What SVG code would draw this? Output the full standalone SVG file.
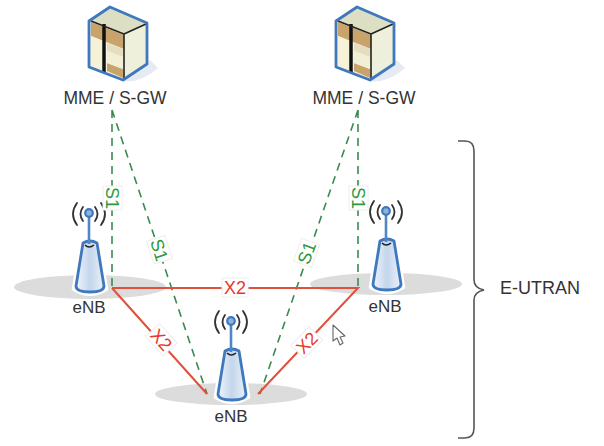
<svg xmlns="http://www.w3.org/2000/svg" width="604" height="446" viewBox="0 0 604 446">
<style>
text{font-family:"Liberation Sans",Arial,sans-serif;fill:#333}
.nl{font-size:17.5px;text-anchor:middle}
.el{font-size:17px;text-anchor:middle}
.s{stroke:#3a8a50;stroke-width:1.6;stroke-dasharray:8 6;fill:none}
.x{stroke:#e0503c;stroke-width:2;fill:none}
.lb{fill:#fff;stroke:#eee;stroke-width:1}
.sl{font-size:18px;text-anchor:middle;fill:#2c9a3c}
.xl{font-size:18px;text-anchor:middle;fill:#e8382c}
.shadow{fill:#dcdcdc}
.wave{fill:none;stroke:#333;stroke-width:1.8;stroke-linecap:round}
</style>
<defs>
<linearGradient id="bodyfill" x1="0" x2="1" y1="0" y2="0"><stop offset="0" stop-color="#eef4fb"/><stop offset="0.5" stop-color="#c4d6ec"/><stop offset="1" stop-color="#eaf1f9"/></linearGradient>
<g id="server">
<path d="M121 81Q140 84 158 68L150 60Z" fill="#e6eaf2"/>
<path d="M110 7 147 23V64L123 80 89 67V21Z" fill="#f4f3e4"/>
<path d="M110 8 146 24 124 34 91 21Z" fill="#dcdfc4"/>
<path d="M124 34 146 24V63L124 79Z" fill="#eef0dc"/>
<path d="M91 22 124 35V49L91 36Z" fill="#c9a36c"/>
<path d="M91 36 103 41V71L91 66Z" fill="#f6f2d8"/>
<path d="M107 43 123 49V57L107 51Z" fill="#e6dcc0"/>
<path d="M107 63 123 69V78L107 71Z" fill="#c9a36c"/>
<path d="M107 51 123 57V69L107 63Z" fill="#f3efd4"/>
<path d="M104 24V72" stroke="#111" stroke-width="3.5" fill="none"/>
<path d="M91 21 124 34V79M124 34 146 24" stroke="#222" stroke-width="1.6" fill="none"/>
<path d="M110 7 147 23V64L123 80 89 67V21Z" fill="none" stroke="#3f78bd" stroke-width="2.8" stroke-linejoin="round"/>
</g>
<g id="antenna">
<path d="M83 243Q90 239 97 243L104 288Q90 296 76 288Z" fill="#fff" stroke="#fff" stroke-width="8"/>
<path d="M83 243Q90 239 97 243L104 286Q104 292 90 292 76 292 76 286Z" fill="url(#bodyfill)" stroke="#3f78bd" stroke-width="2.8" stroke-linejoin="round"/>
<path d="M89 215V244" stroke="#4f86c6" stroke-width="2.6"/>
<circle cx="89" cy="213" r="3.8" fill="#8fb2dc" stroke="#3f78bd" stroke-width="2.2"/>
<path d="M85 245Q89 249 94 245" fill="none" stroke="#222" stroke-width="1.6"/>
<path class="wave" d="M83 207Q78 214 83 221M95 207Q100 214 95 221M77 203Q69 214 77 225M101 203Q109 214 101 225"/>
</g>
</defs>
<rect width="604" height="446" fill="#fff"/>
<g id="node-mme-1"><use href="#server"/><text class="nl" x="115" y="104">MME / S-GW</text></g>
<g id="node-mme-2"><use href="#server" x="247"/><text class="nl" x="364" y="104">MME / S-GW</text></g>
<g id="node-enb-1"><ellipse class="shadow" cx="90" cy="287" rx="76" ry="12"/><use href="#antenna"/><text class="el" x="89" y="313">eNB</text></g>
<g id="node-enb-2"><ellipse class="shadow" cx="386" cy="284" rx="76" ry="11"/><use href="#antenna" x="297" y="-2"/><text class="el" x="385" y="312">eNB</text></g>
<g id="node-enb-3"><ellipse class="shadow" cx="231" cy="394" rx="76" ry="11"/><use href="#antenna" x="142" y="108"/><text class="el" x="231" y="422">eNB</text></g>
<g id="connectors">
<path class="s" d="M112 110V288M112 110 207 394M358 110V288M358 110 260 394"/>
<path class="x" d="M112 288H358L258 394M112 288 207 394"/>
<g transform="translate(112 198) rotate(90)"><rect class="lb" x="-12" y="-10" width="24" height="19"/><text class="sl" y="6">S1</text></g>
<g transform="translate(358 198) rotate(90)"><rect class="lb" x="-12" y="-10" width="24" height="19"/><text class="sl" y="6">S1</text></g>
<g transform="translate(159 250) rotate(72)"><rect class="lb" x="-12" y="-10" width="24" height="19"/><text class="sl" y="6">S1</text></g>
<g transform="translate(307 253) rotate(-70)"><rect class="lb" x="-12" y="-10" width="24" height="19"/><text class="sl" y="6">S1</text></g>
<g transform="translate(235 288)"><rect class="lb" x="-13" y="-10" width="26" height="19"/><text class="xl" y="6">X2</text></g>
<g transform="translate(161 340) rotate(48)"><rect class="lb" x="-13" y="-10" width="26" height="19"/><text class="xl" y="6">X2</text></g>
<g transform="translate(307 343) rotate(-45)"><rect class="lb" x="-13" y="-10" width="26" height="19"/><text class="xl" y="6">X2</text></g>
</g>
<g id="brace"><path d="M458 141H465Q474 141 474 151V280Q474 288 484 290 474 292 474 300V428Q474 438 465 438H458" fill="none" stroke="#555" stroke-width="1.6"/><text x="500" y="294" font-size="18">E-UTRAN</text></g>
<path id="cursor" d="M333 325V341L337 338 340 345 343 343 340 337 345 336Z" fill="#fff" stroke="#666" stroke-width="1.1" stroke-linejoin="round"/>
</svg>
